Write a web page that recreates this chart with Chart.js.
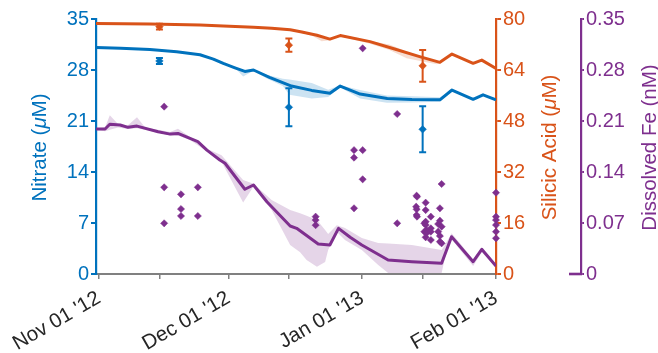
<!DOCTYPE html>
<html><head><meta charset="utf-8">
<script src="https://cdn.jsdelivr.net/npm/chart.js@4/dist/chart.umd.min.js"></script>
<style>html,body{margin:0;padding:0;background:#fff}#wrap{width:658px;height:353px}</style>
</head><body><div id="wrap"><canvas id="c" width="658" height="353"></canvas></div>
<script>
// ---- data (x = days since Nov 01 2012) ----
const xTickDays = [0, 14, 30, 44, 61, 75, 92];
const xTickLabels = {0: "Nov 01 '12", 30: "Dec 01 '12", 61: "Jan 01 '13", 92: "Feb 01 '13"};
const nitTicks = [0, 7, 14, 21, 28, 35];
const siTicks = [0, 16, 32, 48, 64, 80];
const feTicks = [0, 0.07, 0.14, 0.21, 0.28, 0.35];

const nitDays = [-0.7, 5, 11.8, 18, 23.4, 26.5, 28.8, 31.5, 33.8, 35.8, 39.5, 44.6, 49.3, 53.5, 55.9, 60.5, 66.8, 72.5, 79.0, 81.8, 86.7, 89.0, 92];
const nitVals = [31.1, 31.0, 30.8, 30.5, 30.1, 29.5, 28.9, 28.3, 27.8, 28.0, 27.0, 25.8, 25.2, 24.8, 25.8, 24.7, 24.1, 23.95, 23.9, 25.25, 23.97, 24.6, 23.9];
const nitBandDays = [31.5, 33.4, 35.8, 39.0, 42.6, 44.1, 49.3, 53.1, 55.9, 60.5, 66.7, 72.5, 79.0, 81.8];
const nitBandLo = [28.3, 27.1, 27.9, 26.8, 25.8, 24.6, 24.1, 24.3, 25.6, 24.1, 23.5, 23.55, 23.65, 25.2];
const nitBandHi = [28.5, 27.9, 28.1, 27.3, 26.8, 26.7, 26.2, 25.3, 25.9, 25.25, 24.5, 24.4, 24.25, 25.3];

const siDays = [-0.7, 11.8, 23.4, 28.8, 35.8, 40.0, 44.3, 47.0, 50.5, 53.5, 55.9, 62.8, 68.5, 74.3, 79.0, 81.8, 86.7, 88.7, 92];
const siVals = [78.6, 78.4, 78.1, 77.8, 77.4, 77.1, 76.6, 75.9, 74.9, 73.7, 74.8, 72.9, 70.6, 68.2, 66.4, 69.0, 66.1, 67.1, 64.5];
const siBandDays = [45, 47, 49.3, 51.6, 53.5, 55.9, 62.8, 67.3, 71.3, 75.0, 78.3, 79.5];
const siBandLo = [76.3, 75.5, 74.8, 73.0, 73.3, 74.6, 72.2, 70.3, 67.7, 66.7, 65.8, 66.3];
const siBandHi = [76.6, 76.1, 75.6, 74.6, 73.9, 74.9, 73.1, 72.0, 69.8, 68.0, 66.8, 66.5];

const feLineDays = [-0.7, 1.4, 2.5, 4.9, 6.7, 8.8, 13.7, 16.5, 18.3, 22.9, 25.0, 28.0, 29.2, 33.8, 35.8, 38.9, 44.3, 45.8, 50.8, 53.5, 55.5, 58.2, 60.9, 67.0, 72.5, 79.4, 81.7, 86.7, 88.7, 92];
const feLineVals = [0.199, 0.199, 0.2055, 0.2045, 0.2013, 0.203, 0.1953, 0.192, 0.193, 0.1816, 0.170, 0.1565, 0.152, 0.1163, 0.1222, 0.0992, 0.0659, 0.0627, 0.0412, 0.0398, 0.0627, 0.0504, 0.0398, 0.0192, 0.0169, 0.0147, 0.0512, 0.0169, 0.0339, 0.011];
const feBandDays = [-0.7, 1.4, 2.5, 4.4, 6.7, 8.8, 10.7, 16.5, 18.3, 21.1, 25.0, 28.4, 31.0, 33.4, 35.8, 40.0, 44.3, 46.6, 48.1, 50.5, 52.4, 53.1, 55.1, 57.0, 60.9, 64.7, 67.0, 72.5, 79.4, 80.2, 81.7, 83.7, 86.7, 88.7, 92];
const feBandLo = [0.198, 0.196, 0.198, 0.201, 0.199, 0.200, 0.198, 0.190, 0.190, 0.184, 0.168, 0.154, 0.125, 0.098, 0.120, 0.088, 0.0398, 0.030, 0.0192, 0.010, 0.0165, 0.033, 0.058, 0.0467, 0.033, 0.0124, 0.0014, 0.0014, 0.0014, 0.023, 0.048, 0.033, 0.011, 0.030, 0.009];
const feBandHi = [0.200, 0.201, 0.218, 0.206, 0.204, 0.215, 0.201, 0.195, 0.1994, 0.188, 0.172, 0.163, 0.145, 0.129, 0.124, 0.1016, 0.0878, 0.0833, 0.080, 0.0741, 0.0604, 0.055, 0.067, 0.063, 0.0494, 0.0425, 0.042, 0.0398, 0.033, 0.040, 0.056, 0.042, 0.020, 0.036, 0.013];

const feObsDays = [15.1, 15.1, 15.1, 19.0, 19.0, 19.0, 22.9, 22.9, 50.2, 50.2, 50.2, 59.1, 59.1, 59.1, 61.1, 61.1, 61.1, 69.1, 69.1,
  73.6, 73.7, 73.5, 73.6, 73.6, 73.7, 75.7, 75.7, 75.7, 75.4, 75.7, 75.9, 75.4, 75.9, 75.7, 76.9, 76.9, 76.9, 76.9,
  78.6, 79.0, 79.0, 79.4, 78.6, 79.0, 79.0, 79.4, 79.4, 92, 92, 92, 92, 92, 92];
const feObsVals = [0.2297, 0.119, 0.0696, 0.1094, 0.0892, 0.0796, 0.119, 0.0796, 0.0787, 0.074, 0.067, 0.170, 0.1597, 0.0902, 0.3098, 0.170, 0.130, 0.2196, 0.0696,
  0.1075, 0.1061, 0.0924, 0.0888, 0.081, 0.0787, 0.0979, 0.0878, 0.0718, 0.0696, 0.0673, 0.0604, 0.0581, 0.0559, 0.0504, 0.0787, 0.0627, 0.0581, 0.0467,
  0.0686, 0.0902, 0.0732, 0.065, 0.0581, 0.0522, 0.0444, 0.0421, 0.1235, 0.1116, 0.0787, 0.0741, 0.0673, 0.0581, 0.049];

const obsDays = [14, 44, 75];
const nitObs = [29.24, 22.88, 19.86];
const nitErr = [0.4, 2.6, 3.15];
const siObs = [77.6, 71.8, 65.3];
const siErr = [0.9, 2.1, 5.0];

// ---- styling ----
const BLUE = '#0072BD', ORANGE = '#D95319', PURPLE = '#7E2F8E', GRAY = '#808080';
const FONT = "'Liberation Sans', Arial, Helvetica, sans-serif";
const pts = (xs, ys) => xs.map((x, i) => ({x: x, y: ys[i]}));
const NONE = 'rgba(0,0,0,0)';

function band(xs, lo, hi, axis, fillColor) {
  return [
    {data: pts(xs, lo), yAxisID: axis, showLine: true, borderColor: NONE, borderWidth: 0, pointRadius: 0, fill: false, order: 10},
    {data: pts(xs, hi), yAxisID: axis, showLine: true, borderColor: NONE, borderWidth: 0, pointRadius: 0, fill: '-1', backgroundColor: fillColor, order: 10}
  ];
}
function line(xs, ys, axis, color) {
  return {data: pts(xs, ys), yAxisID: axis, showLine: true, borderColor: color, borderWidth: 3, pointRadius: 0, fill: false, order: 5,
    borderJoinStyle: 'round'};
}

const datasets = [
  ...band(nitBandDays, nitBandLo, nitBandHi, 'y', 'rgba(0,114,189,0.2)'),
  ...band(siBandDays, siBandLo, siBandHi, 'ySi', 'rgba(217,83,25,0.2)'),
  ...band(feBandDays, feBandLo, feBandHi, 'yFe', 'rgba(126,47,142,0.2)'),
  line(nitDays, nitVals, 'y', BLUE),
  line(siDays, siVals, 'ySi', ORANGE),
  line(feLineDays, feLineVals, 'yFe', PURPLE),
  {data: pts(feObsDays, feObsVals), yAxisID: 'yFe', showLine: false, pointStyle: 'rectRot', pointRadius: 3.6, backgroundColor: PURPLE, borderColor: PURPLE, borderWidth: 0.5, order: 1, clip: false},
  {data: pts(obsDays, nitObs), yAxisID: 'y', showLine: false, pointStyle: 'rectRot', pointRadius: 3.8, backgroundColor: BLUE, borderColor: BLUE, borderWidth: 0.5, order: 0, clip: false, errVals: nitErr, errColor: BLUE},
  {data: pts(obsDays, siObs), yAxisID: 'ySi', showLine: false, pointStyle: 'rectRot', pointRadius: 3.8, backgroundColor: ORANGE, borderColor: ORANGE, borderWidth: 0.5, order: 0, clip: false, errVals: siErr, errColor: ORANGE}
];

const errPlugin = {
  id: 'errbars',
  beforeDatasetDraw(chart, args) {
    const ds = chart.data.datasets[args.index];
    if (!ds.errVals) return;
    const ctx = chart.ctx, xs = chart.scales.x, ys = chart.scales[ds.yAxisID];
    ctx.save();
    ctx.strokeStyle = ds.errColor; ctx.lineWidth = 2;
    ds.data.forEach((p, i) => {
      const px = xs.getPixelForValue(p.x);
      const y1 = ys.getPixelForValue(p.y - ds.errVals[i]);
      const y2 = ys.getPixelForValue(p.y + ds.errVals[i]);
      ctx.beginPath();
      ctx.moveTo(px, y1); ctx.lineTo(px, y2);
      ctx.moveTo(px - 3.5, y1); ctx.lineTo(px + 3.5, y1);
      ctx.moveTo(px - 3.5, y2); ctx.lineTo(px + 3.5, y2);
      ctx.stroke();
    });
    ctx.restore();
  }
};

function vTitle(ctx, parts, cx, cy, color, size) {
  ctx.save();
  ctx.translate(cx, cy);
  ctx.rotate(-Math.PI / 2);
  ctx.fillStyle = color;
  ctx.textBaseline = 'middle';
  ctx.textAlign = 'left';
  const fonts = parts.map(p => (p[1] ? 'italic ' : '') + size + 'px ' + FONT);
  let total = 0;
  const widths = parts.map((p, i) => { ctx.font = fonts[i]; const w = ctx.measureText(p[0]).width; total += w; return w; });
  let x = -total / 2;
  parts.forEach((p, i) => { ctx.font = fonts[i]; ctx.fillText(p[0], x, 0); x += widths[i]; });
  ctx.restore();
}

const titlePlugin = {
  id: 'titles',
  afterDraw(chart) {
    const ctx = chart.ctx, ca = chart.chartArea;
    const cy = (ca.top + ca.bottom) / 2 + 1;
    vTitle(ctx, [['Nitrate (', false], ['\u03bc', true], ['M)', false]], 40, cy, BLUE, 20.5);
    vTitle(ctx, [['Silicic Acid (', false], ['\u03bc', true], ['M)', false]], 550, cy, ORANGE, 20.5);
    vTitle(ctx, [['Dissolved Fe (nM)', false]], 650, cy, PURPLE, 20.5);
    // purple axis foot
    const fe = chart.scales.yFe;
    const y0 = fe.getPixelForValue(0);
    ctx.save();
    ctx.strokeStyle = PURPLE; ctx.lineWidth = 2.6;
    ctx.beginPath(); ctx.moveTo(fe.left - 12, y0); ctx.lineTo(fe.left + 1, y0); ctx.stroke();
    ctx.restore();
  }
};

function yAxis(pos, min, max, ticks, color, width, tickLen, fmt) {
  return {
    type: 'linear', position: pos, min: min, max: max,
    afterBuildTicks: s => { s.ticks = ticks.map(v => ({value: v})); },
    afterFit: s => { s.width = width; },
    grid: {drawOnChartArea: false, drawTicks: true, tickLength: tickLen, color: color, lineWidth: 2},
    border: {display: true, color: color, width: 2.2},
    ticks: {color: color, font: {family: FONT, size: 20}, padding: 2, callback: fmt}
  };
}

new Chart(document.getElementById('c'), {
  type: 'scatter',
  data: {datasets: datasets},
  options: {
    responsive: false, animation: false, devicePixelRatio: 1, events: [],
    layout: {padding: {top: 19, left: 0, right: 0, bottom: 0}},
    plugins: {legend: {display: false}, tooltip: {enabled: false}},
    scales: {
      x: {
        type: 'linear', position: 'bottom', min: -0.7, max: 92,
        afterBuildTicks: s => { s.ticks = xTickDays.map(v => ({value: v})); },
        afterFit: s => { s.height = 79; },
        grid: {drawOnChartArea: false, drawTicks: true, tickLength: 5, color: GRAY, lineWidth: 1.5},
        border: {display: true, color: GRAY, width: 2},
        ticks: {color: '#262626', font: {family: FONT, size: 20.5}, padding: 7, minRotation: 30, maxRotation: 30, autoSkip: false,
          callback: v => xTickLabels[v] || ''}
      },
      y: yAxis('left', 0, 35, nitTicks, BLUE, 96, 5, v => String(v)),
      ySi: yAxis('right', 0, 80, siTicks, ORANGE, 85, 5, v => String(v)),
      yFe: yAxis('right', 0, 0.35, feTicks, PURPLE, 77, 3, v => (v === 0 ? '0' : v.toFixed(2)))
    }
  },
  plugins: [errPlugin, titlePlugin]
});
</script></body></html>
